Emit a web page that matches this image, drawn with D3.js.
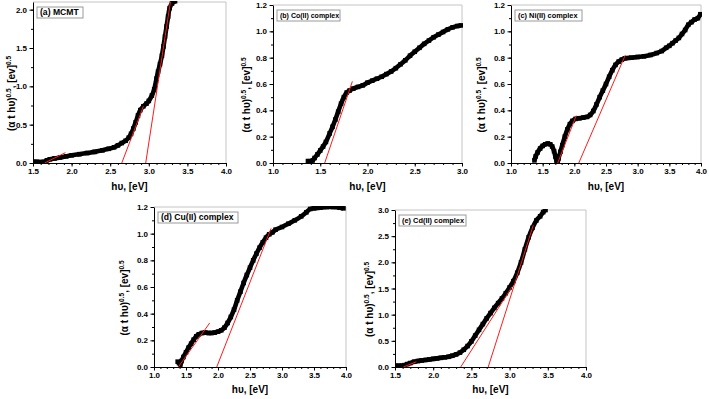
<!DOCTYPE html>
<html>
<head>
<meta charset="utf-8">
<script src="https://cdn.jsdelivr.net/npm/d3@7/dist/d3.min.js"></script>
<style>
  body { margin: 0; background: #fff; }
  svg { display: block; font-family: "Liberation Sans", Arial, sans-serif; font-weight: bold; }
</style>
</head>
<body>
<svg id="chart" width="709" height="399"></svg>
<script>
// ---- data (hv in eV, (a t hv)^0.5) ----
const mcmtPoints = [
  [1.50,0.015],[1.55,0.015],[1.60,0.012],[1.64,0.015],[1.68,0.035],[1.72,0.048],[1.78,0.060],
  [1.85,0.072],[1.93,0.087],[2.00,0.10],[2.10,0.115],[2.20,0.13],[2.30,0.145],[2.40,0.165],
  [2.48,0.185],[2.55,0.205],[2.60,0.23],[2.65,0.26],[2.70,0.29],[2.74,0.33],[2.77,0.38],
  [2.80,0.45],[2.83,0.53],[2.86,0.62],[2.89,0.69],[2.93,0.74],[2.97,0.775],[3.00,0.81],
  [3.04,0.88],[3.07,0.96],[3.10,1.10],[3.12,1.19],[3.145,1.29],[3.17,1.40],[3.19,1.52],
  [3.21,1.65],[3.23,1.78],[3.25,1.91],[3.27,2.02],[3.30,2.08],[3.34,2.11]
];
const mcmtFits = [
  [[1.65,0],[1.92,0.135]],
  [[2.65,0],[2.93,0.74]],
  [[2.96,0],[3.28,2.10]]
];

const coPoints = [
  [1.37,0.015],[1.40,0.012],[1.42,0.02],[1.44,0.038],[1.47,0.065],[1.50,0.095],[1.53,0.125],
  [1.56,0.16],[1.60,0.225],[1.63,0.275],[1.66,0.33],[1.69,0.39],[1.72,0.45],[1.75,0.50],
  [1.78,0.535],[1.81,0.55],[1.85,0.565],[1.90,0.578],[1.95,0.59],[2.00,0.61],[2.05,0.625],
  [2.10,0.64],[2.15,0.655],[2.20,0.675],[2.25,0.695],[2.30,0.72],[2.35,0.75],[2.40,0.78],
  [2.45,0.815],[2.50,0.845],[2.55,0.875],[2.60,0.905],[2.65,0.93],[2.70,0.955],[2.75,0.975],
  [2.80,0.995],[2.85,1.015],[2.90,1.03],[2.95,1.04],[2.99,1.045]
];
const coFits = [
  [[1.547,0],[1.84,0.62]]
];

const niPoints = [
  [1.37,0.02],[1.39,0.05],[1.42,0.08],[1.46,0.11],[1.50,0.13],[1.54,0.142],[1.58,0.148],
  [1.62,0.142],[1.65,0.125],[1.68,0.09],[1.70,0.05],[1.72,0.015],[1.735,0.005],[1.75,0.035],
  [1.78,0.085],[1.81,0.135],[1.85,0.20],[1.89,0.255],[1.93,0.295],[1.97,0.32],[2.02,0.335],
  [2.08,0.34],[2.14,0.345],[2.20,0.35],[2.25,0.365],[2.30,0.395],[2.35,0.445],[2.40,0.50],
  [2.45,0.55],[2.50,0.60],[2.55,0.655],[2.60,0.705],[2.65,0.745],[2.70,0.77],[2.75,0.785],
  [2.80,0.795],[2.90,0.80],[3.00,0.805],[3.10,0.81],[3.20,0.82],[3.30,0.835],[3.38,0.85],
  [3.45,0.875],[3.50,0.89],[3.55,0.91],[3.60,0.93],[3.65,0.95],[3.70,0.98],[3.75,1.01],
  [3.80,1.05],[3.85,1.07],[3.90,1.09],[3.95,1.10],[3.99,1.13]
];
const niFits = [
  [[1.737,0],[2.03,0.36]],
  [[2.07,0],[2.805,0.82]]
];

const cuPoints = [
  [1.37,0.04],[1.39,0.03],[1.41,0.015],[1.43,0.045],[1.46,0.075],[1.50,0.11],[1.54,0.145],
  [1.58,0.175],[1.62,0.205],[1.66,0.23],[1.70,0.245],[1.75,0.255],[1.80,0.258],[1.85,0.255],
  [1.90,0.255],[1.95,0.258],[2.00,0.265],[2.05,0.275],[2.10,0.295],[2.15,0.33],[2.20,0.375],
  [2.25,0.43],[2.30,0.50],[2.35,0.565],[2.40,0.63],[2.45,0.69],[2.50,0.745],[2.55,0.80],
  [2.60,0.85],[2.65,0.895],[2.70,0.935],[2.75,0.97],[2.80,0.995],[2.85,1.01],[2.90,1.03],
  [3.00,1.05],[3.10,1.075],[3.20,1.10],[3.30,1.13],[3.38,1.16],[3.44,1.185],[3.50,1.19],
  [3.60,1.195],[3.70,1.20],[3.80,1.20],[3.90,1.195],[3.96,1.19]
];
const cuFits = [
  [[1.38,0],[1.87,0.33]],
  [[1.98,0],[2.83,1.04]]
];

const cdPoints = [
  [1.50,0.025],[1.55,0.025],[1.59,0.025],[1.62,0.035],[1.66,0.055],[1.70,0.075],[1.75,0.10],
  [1.80,0.115],[1.85,0.125],[1.90,0.135],[1.95,0.145],[2.00,0.155],[2.05,0.165],[2.10,0.175],
  [2.15,0.185],[2.20,0.195],[2.25,0.215],[2.30,0.24],[2.35,0.275],[2.40,0.33],[2.45,0.40],
  [2.50,0.49],[2.55,0.60],[2.60,0.71],[2.65,0.82],[2.70,0.93],[2.75,1.03],[2.80,1.13],
  [2.85,1.22],[2.90,1.31],[2.95,1.41],[3.00,1.52],[3.05,1.64],[3.10,1.80],[3.15,2.00],
  [3.20,2.25],[3.25,2.48],[3.30,2.66],[3.35,2.80],[3.40,2.88],[3.44,2.96],[3.47,3.0]
];
const cdFits = [
  [[1.61,0],[1.78,0.10]],
  [[2.36,0],[3.03,1.53]],
  [[2.72,0],[3.31,2.71]]
];

// tick labels
const xTicksFrom15 = [1.5, 2.0, 2.5, 3.0, 3.5, 4.0];
const xTicksTo3 = [1.0, 1.5, 2.0, 2.5, 3.0];
const xTicksTo4 = [1.0, 1.5, 2.0, 2.5, 3.0, 3.5, 4.0];
const yTicksHalf2 = [0.0, 0.5, 1.0, 1.5, 2.0];
const yTicksFifth = [0.0, 0.2, 0.4, 0.6, 0.8, 1.0, 1.2];
const yTicksHalf3 = [0.0, 0.5, 1.0, 1.5, 2.0, 2.5, 3.0];

const panelLabels = ["(a) MCMT", "(b) Co(II) complex", "(c) Ni(II) complex", "(d) Cu(II) complex", "(e) Cd(II) complex"];

// ---- layout ----
const AXIS_COLOR = "#000";
const FRAME_GREY = "#c4c4c4";
const FIT_RED = "#ff1a1a";
const fmt = d3.format(".1f");

const panels = [
  { points: mcmtPoints, fits: mcmtFits, xDomain: [1.5, 4.0], yDomain: [0, 2.1],
    xTicks: xTicksFrom15, yTicks: yTicksHalf2, yMinor: 0.25,
    box: { left: 33, top: 2, right: 226, bottom: 163 },
    legend: { w: 46, size: 8.6 }, yLabelX: 15, xLabelY: 190 },
  { points: coPoints, fits: coFits, xDomain: [1.0, 3.0], yDomain: [0, 1.2],
    xTicks: xTicksTo3, yTicks: yTicksFifth, yMinor: 0.1,
    box: { left: 273, top: 5, right: 462, bottom: 163 },
    legend: { w: 63, size: 7 }, yLabelX: 250, xLabelY: 190 },
  { points: niPoints, fits: niFits, xDomain: [1.0, 4.0], yDomain: [0, 1.2],
    xTicks: xTicksTo4, yTicks: yTicksFifth, yMinor: 0.1,
    box: { left: 511, top: 5, right: 701, bottom: 163 },
    legend: { w: 67, size: 7.4 }, yLabelX: 485, xLabelY: 190 },
  { points: cuPoints, fits: cuFits, xDomain: [1.0, 4.0], yDomain: [0, 1.2],
    xTicks: xTicksTo4, yTicks: yTicksFifth, yMinor: 0.1,
    box: { left: 154, top: 207, right: 346, bottom: 367 },
    legend: { w: 80, size: 8.6 }, yLabelX: 128, xLabelY: 393 },
  { points: cdPoints, fits: cdFits, xDomain: [1.5, 4.0], yDomain: [0, 3.0],
    xTicks: xTicksFrom15, yTicks: yTicksHalf3, yMinor: 0.25,
    box: { left: 395, top: 210, right: 586, bottom: 367 },
    legend: { w: 67, size: 7.4 }, yLabelX: 373, xLabelY: 393 }
];

const svg = d3.select("#chart");
svg.append("rect").attr("width", 709).attr("height", 399).attr("fill", "#fff");

function minorValues(domain, step) {
  const out = [];
  for (let v = domain[0]; v <= domain[1] + 1e-9; v += step) out.push(+v.toFixed(3));
  return out;
}

panels.forEach((p, i) => {
  const b = p.box;
  const x = d3.scaleLinear().domain(p.xDomain).range([b.left, b.right]);
  const y = d3.scaleLinear().domain(p.yDomain).range([b.bottom, b.top]);
  const g = svg.append("g");

  // grey top/right frame
  g.append("path")
    .attr("d", `M${b.left},${b.top}H${b.right}V${b.bottom}`)
    .attr("fill", "none").attr("stroke", FRAME_GREY).attr("stroke-width", 1);

  const clipId = `clip${i}`;
  svg.append("clipPath").attr("id", clipId)
    .append("rect").attr("x", b.left).attr("y", b.top - 1)
    .attr("width", b.right - b.left + 1).attr("height", b.bottom - b.top + 1);

  const plot = g.append("g").attr("clip-path", `url(#${clipId})`);

  // data band + square markers
  plot.append("path")
    .datum(p.points)
    .attr("d", d3.line().x(d => x(d[0])).y(d => y(d[1])).curve(d3.curveCatmullRom))
    .attr("fill", "none").attr("stroke", "#000")
    .attr("stroke-width", 4.6).attr("stroke-linejoin", "round");
  plot.selectAll("rect.pt")
    .data(p.points)
    .join("rect")
    .attr("class", "pt")
    .attr("x", d => x(d[0]) - 2.3).attr("y", d => y(d[1]) - 2.3)
    .attr("width", 4.6).attr("height", 4.6).attr("fill", "#000");

  // red tangent lines
  plot.selectAll("line.fit")
    .data(p.fits)
    .join("line")
    .attr("class", "fit")
    .attr("x1", d => x(d[0][0])).attr("y1", d => y(d[0][1]))
    .attr("x2", d => x(d[1][0])).attr("y2", d => y(d[1][1]))
    .attr("stroke", FIT_RED).attr("stroke-width", 1);

  // axes: minor first, then major with labels
  const xMinor = g.append("g").attr("transform", `translate(0,${b.bottom})`)
    .call(d3.axisBottom(x).tickValues(minorValues(p.xDomain, 0.1)).tickSize(2).tickFormat(""));
  xMinor.select(".domain").remove();
  const yMinor = g.append("g").attr("transform", `translate(${b.left},0)`)
    .call(d3.axisLeft(y).tickValues(minorValues(p.yDomain, p.yMinor)).tickSize(2).tickFormat(""));
  yMinor.select(".domain").remove();

  const xAxis = g.append("g").attr("transform", `translate(0,${b.bottom})`)
    .call(d3.axisBottom(x).tickValues(p.xTicks).tickSize(3.5).tickPadding(2).tickFormat(fmt).tickSizeOuter(0));
  const yAxis = g.append("g").attr("transform", `translate(${b.left},0)`)
    .call(d3.axisLeft(y).tickValues(p.yTicks).tickSize(3.5).tickPadding(2.5).tickFormat(fmt).tickSizeOuter(0));
  [xAxis, yAxis, xMinor, yMinor].forEach(a => {
    a.selectAll("line, .domain").attr("stroke", AXIS_COLOR).attr("stroke-width", 1);
    a.selectAll("text").attr("fill", "#000").attr("font-size", 8)
      .attr("font-family", "Liberation Sans, Arial, sans-serif").attr("font-weight", "bold");
  });

  // legend box
  const lg = g.append("g").attr("transform", `translate(${b.left + 4},${b.top + 5})`);
  lg.append("rect").attr("width", p.legend.w).attr("height", 11)
    .attr("fill", "#fff").attr("stroke", "#9a9a9a").attr("stroke-width", 1);
  lg.append("text").attr("x", 3).attr("y", 8.4)
    .attr("font-size", p.legend.size).attr("fill", "#000")
    .text(panelLabels[i]);

  // x label
  g.append("text")
    .attr("x", (b.left + b.right) / 2).attr("y", p.xLabelY)
    .attr("text-anchor", "middle").attr("font-size", 10).attr("fill", "#000")
    .text("h\u03c5, [eV]");

  // y label
  const cy = (b.top + b.bottom) / 2 + 11;
  const yl = g.append("text")
    .attr("transform", `translate(${p.yLabelX},${cy}) rotate(-90)`)
    .attr("text-anchor", "middle").attr("font-size", 10).attr("fill", "#000");
  yl.append("tspan").text("(\u03b1 t h\u03c5)");
  yl.append("tspan").attr("dy", -4.5).attr("font-size", 6.5).text("0.5");
  yl.append("tspan").attr("dy", 4.5).text(", [ev]");
  yl.append("tspan").attr("dy", -4.5).attr("font-size", 6.5).text("0.5");
});
</script>
</body>
</html>
